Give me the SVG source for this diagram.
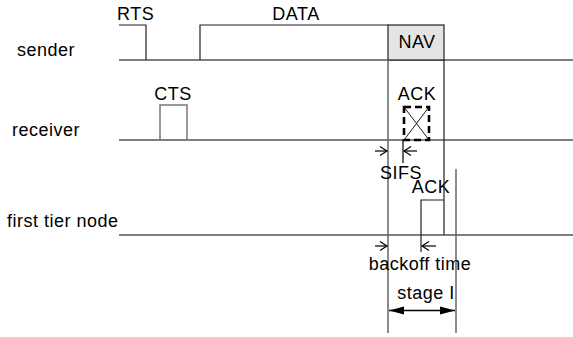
<svg xmlns="http://www.w3.org/2000/svg" width="573" height="337" viewBox="0 0 573 337">
<style>
text{font-family:"Liberation Sans",Arial,sans-serif;font-size:18px;fill:#000;letter-spacing:0.5px}
.c{text-anchor:middle}
.base{stroke:#000;stroke-width:1.2;fill:none}
.pulse{stroke:#222;stroke-width:1.2;fill:none}
.gbox{stroke:#777;stroke-width:1.5;fill:none}
.vl{stroke:#666;stroke-width:1.5;fill:none}
.ar{stroke:#000;stroke-width:1.2;fill:none}
</style>
<defs>
<marker id="open" markerWidth="10" markerHeight="12" refX="8" refY="6" orient="auto" markerUnits="userSpaceOnUse">
<path d="M1,1.5 L8,6 L1,10.5" fill="none" stroke="#000" stroke-width="1.2"/>
</marker>
<marker id="solid" markerWidth="16" markerHeight="10" refX="15" refY="5" orient="auto-start-reverse" markerUnits="userSpaceOnUse">
<path d="M0,1 L15,5 L0,9 Z" fill="#000"/>
</marker>
</defs>
<rect width="573" height="337" fill="#fff"/>

<g id="sender">
<text x="17" y="56">sender</text>
<line class="base" x1="119" y1="60" x2="573" y2="60"/>
<polyline class="pulse" points="119,25 146,25 146,60"/>
<polyline class="pulse" points="200,60 200,25 388,25"/>
<rect x="388" y="25" width="56" height="35" fill="#e4e4e4" stroke="#222" stroke-width="1.2"/>
<text x="117" y="20">RTS</text>
<text class="c" x="296" y="20">DATA</text>
<text class="c" x="417" y="48">NAV</text>
</g>

<g id="receiver">
<text x="12" y="136">receiver</text>
<line class="base" x1="119" y1="140" x2="573" y2="140"/>
<polyline class="gbox" points="160,140 160,105 187,105 187,140"/>
<text class="c" x="173" y="100">CTS</text>
<rect x="404" y="107" width="25" height="33" fill="none" stroke="#000" stroke-width="2.6" stroke-dasharray="7,4"/>
<line x1="404" y1="107" x2="429" y2="140" stroke="#000" stroke-width="0.9"/>
<line x1="429" y1="107" x2="404" y2="140" stroke="#000" stroke-width="0.9"/>
<text class="c" x="417" y="100">ACK</text>
</g>

<g id="first-tier-node">
<text x="7" y="227">first tier node</text>
<line class="base" x1="119" y1="235" x2="573" y2="235"/>
<polyline class="pulse" points="421,252 421,200 444,200"/>
<text class="c" x="431" y="193">ACK</text>
</g>

<g id="timing">
<line class="vl" x1="388" y1="60" x2="388" y2="333"/>
<line x1="444" y1="60" x2="444" y2="235" stroke="#222" stroke-width="1.2"/>
<line class="vl" x1="456" y1="169" x2="456" y2="333"/>
<line x1="403" y1="140" x2="403" y2="163" stroke="#000" stroke-width="1.2"/>
<text class="c" x="401" y="179">SIFS</text>
<text class="c" x="420" y="270">backoff time</text>
<text class="c" x="426" y="299">stage I</text>
</g>

<g id="connectors">
<line class="ar" x1="375" y1="151" x2="387" y2="151" marker-end="url(#open)"/>
<line class="ar" x1="417" y1="151" x2="404" y2="151" marker-end="url(#open)"/>
<line class="ar" x1="375" y1="246" x2="387" y2="246" marker-end="url(#open)"/>
<line class="ar" x1="436" y1="246" x2="422" y2="246" marker-end="url(#open)"/>
<line x1="389" y1="310.5" x2="455" y2="310.5" stroke="#000" stroke-width="1.5" marker-start="url(#solid)" marker-end="url(#solid)"/>
</g>
</svg>
